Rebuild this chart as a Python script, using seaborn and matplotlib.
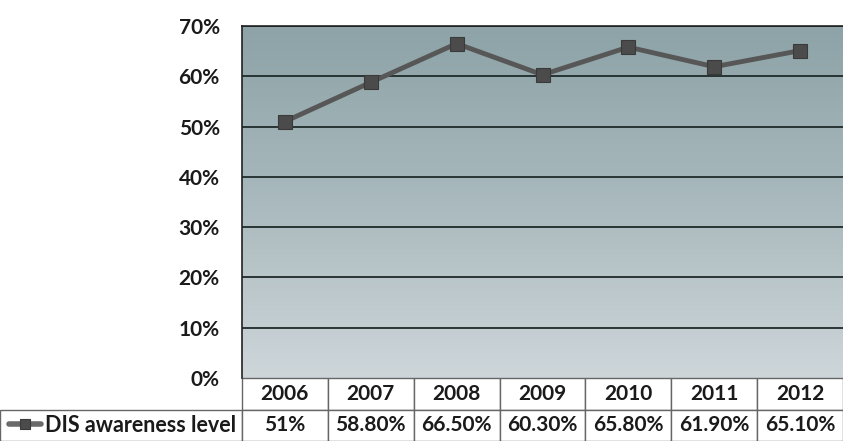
import numpy as np
import pandas as pd
import matplotlib
matplotlib.use('Agg')
import matplotlib.pyplot as plt
import seaborn as sns
from matplotlib.table import Table
from matplotlib.colors import LinearSegmentedColormap

# Data
years = ['2006', '2007', '2008', '2009', '2010', '2011', '2012']
awareness = [51.0, 58.8, 66.5, 60.3, 65.8, 61.9, 65.1]
value_labels = ['51%', '58.80%', '66.50%', '60.30%', '65.80%', '61.90%', '65.10%']
series_name = 'DIS awareness level'
y_ticks = [0, 10, 20, 30, 40, 50, 60, 70]

df = pd.DataFrame({'year': years, 'level': awareness})
df['pos'] = range(len(years))

sns.set_style('white')
plt.rcParams['font.family'] = ['Lato', 'DejaVu Sans']

W, H = 843, 441
fig = plt.figure(figsize=(W / 100, H / 100), dpi=100)
fig.patch.set_facecolor('white')

left, right, top, bottom = 242, 843, 26, 378
ax = fig.add_axes([left / W, (H - bottom) / H, (right - left) / W, (bottom - top) / H])

# gradient background (teal-gray at top, light gray at bottom)
cmap = LinearSegmentedColormap.from_list('bg', ['#ced6da', '#a9b9bd', '#8da3a7'])
grad = np.linspace(0, 1, 256).reshape(-1, 1)
ax.imshow(grad, cmap=cmap, aspect='auto', origin='lower',
          extent=[-0.5, 6.5, 0, 70], zorder=0)

for t in y_ticks[1:]:
    ax.axhline(t, color='#1f2a2a', lw=1.3, zorder=1)

sns.lineplot(data=df, x='pos', y='level', ax=ax, color='#575757', lw=3.5,
             marker='s', markersize=10, markerfacecolor='#4b4b4b',
             markeredgecolor='#3a3a3a', markeredgewidth=0.8,
             label=series_name, zorder=3, legend=False)

ax.set_xlim(-0.5, 6.5)
ax.set_ylim(0, 70)
ax.set_yticks(y_ticks)
ax.set_yticklabels([f'{t}%' for t in y_ticks], fontsize=15, fontweight='bold',
                   color='#1a1a1a')
ax.set_xticks([])
ax.set_xlabel('')
ax.set_ylabel('')
ax.tick_params(axis='y', length=0, pad=16)
for s in ['left', 'top']:
    ax.spines[s].set_color('#222222')
    ax.spines[s].set_linewidth(1.2)
ax.spines['right'].set_visible(False)
ax.spines['bottom'].set_visible(False)

# data table under the plot
tab_h = (H - bottom) / (bottom - top)
x0 = -left / (right - left)
tb = Table(ax, bbox=[x0, -tab_h, 1 - x0, tab_h])
col_w = (right - left) / len(years)
for j, yr in enumerate(years):
    c = tb.add_cell(0, j + 1, col_w, 1, text=yr, loc='center', edgecolor='#666666')
    c.get_text().set_fontweight('bold')
    c.get_text().set_fontsize(15)
    c.get_text().set_color('#1a1a1a')
tb.add_cell(0, 0, left, 1, text='', edgecolor='none')
tb.add_cell(1, 0, left, 1, text='', edgecolor='#666666')
for j, v in enumerate(value_labels):
    c = tb.add_cell(1, j + 1, col_w, 1, text=v, loc='center', edgecolor='#666666')
    c.get_text().set_fontweight('bold')
    c.get_text().set_fontsize(15)
    c.get_text().set_color('#1a1a1a')
tb.auto_set_font_size(False)
tb.set_clip_on(False)
ax.add_table(tb)

# legend key inside the row-label cell
handles, _ = ax.get_legend_handles_labels()
leg = ax.legend(handles, [series_name], loc='center left', frameon=False,
                bbox_to_anchor=(9 / W, 16 / H), bbox_transform=fig.transFigure,
                handlelength=1.5, handletextpad=0.15, borderpad=0, borderaxespad=0,
                prop={'weight': 'bold', 'size': 15.5})
for lh in leg.legend_handles:
    lh.set_markersize(7)
    lh.set_linewidth(4)
    lh.set_color('#6a6a6a')
for txt in leg.get_texts():
    txt.set_color('#1a1a1a')

fig.savefig('out.png', dpi=100)
